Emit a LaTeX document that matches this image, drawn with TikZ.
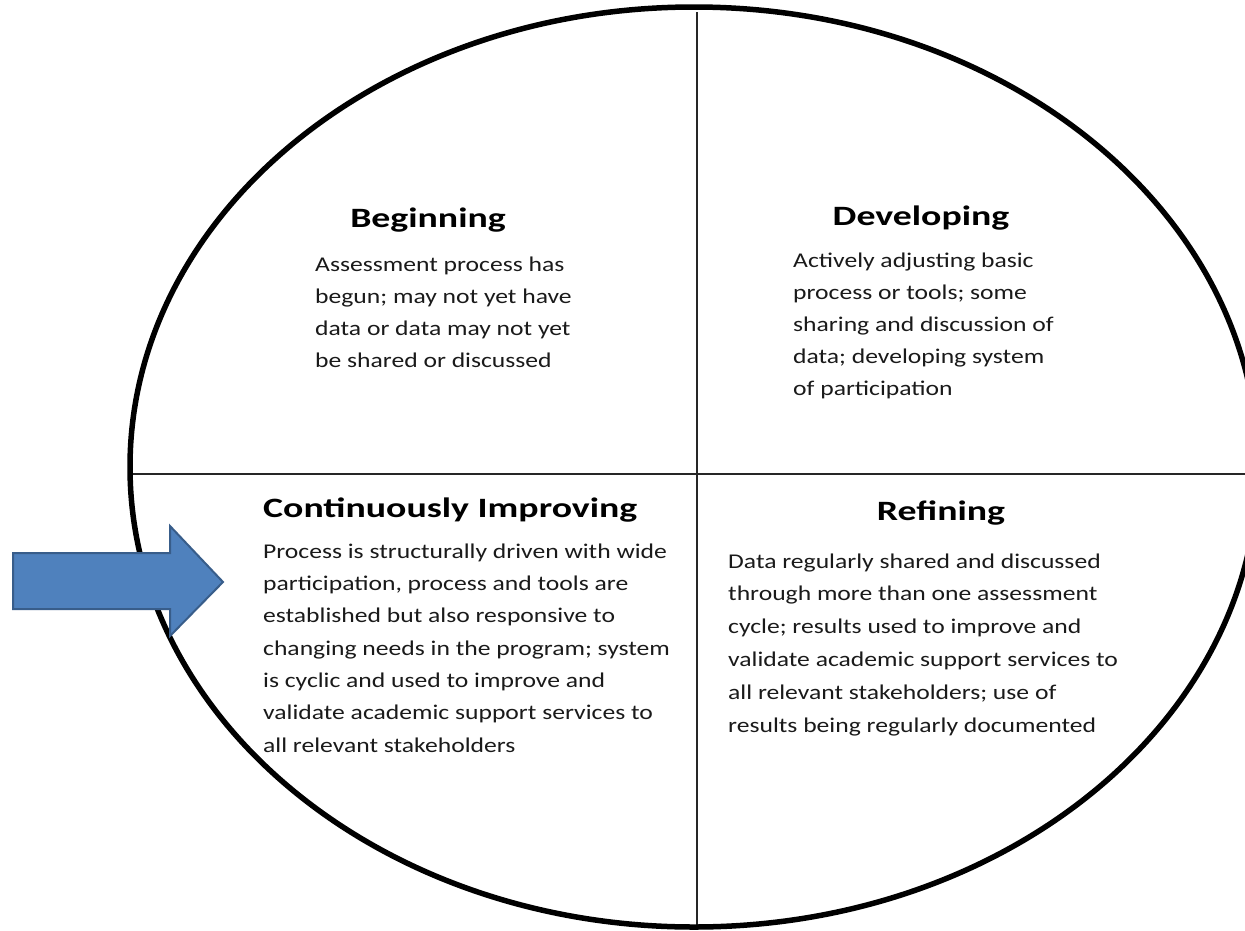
\documentclass[tikz,border=0pt]{standalone}
\usepackage{fontspec}
\setmainfont[FakeStretch=1.22]{Carlito}
\newfontfamily\titlefont[FakeStretch=1.35]{Carlito}
\definecolor{arrowfill}{HTML}{4F81BD}
\definecolor{arrowline}{HTML}{385D8A}
\definecolor{bodytext}{HTML}{1A1A1A}
\begin{document}
\begin{tikzpicture}[x=1pt,y=-1pt,
  title/.style={font=\titlefont\fontsize{28}{32}\selectfont\bfseries, inner sep=0pt, text=black, anchor=base},
  body/.style={align=left, inner sep=0pt, text=bodytext, anchor=base west},
  divider/.style={draw=black!85, line width=1.6pt},
  rim/.style={draw=black, line width=5.5pt}]
\useasboundingbox (0,0) rectangle (1245,930);
\clip (0,0) rectangle (1245,930);
\fill[white] (0,0) rectangle (1245,930);
% quadrant dividers
\coordinate (ctop) at (697,12);
\coordinate (cbot) at (697,928);
\coordinate (cleft) at (130,474);
\coordinate (cright) at (1245,474);
\draw[divider] (ctop) -- (cbot);
\draw[divider] (cleft) -- (cright);
% outer ellipse
\draw[rim] (694,467) ellipse [x radius=564, y radius=460];
% Beginning
\node[title] (tbeg) at (428,227) {Beginning};
\node[body, font=\fontsize{21}{31.7}\selectfont] (bbeg) at (315,367) {Assessment process has\\begun; may not yet have\\data or data may not yet\\be shared or discussed};
% Developing
\node[title] (tdev) at (921,225) {Developing};
\node[body, font=\fontsize{21}{32}\selectfont] (bdev) at (793,395) {Actively adjusting basic\\process or tools; some\\sharing and discussion of\\data; developing system\\of participation};
% Continuously Improving
\node[title, anchor=base west] (tci) at (263,517) {Continuously Improving};
\node[body, font=\fontsize{21}{32.3}\selectfont] (bci) at (263,752) {Process is structurally driven with wide\\participation, process and tools are\\established but also responsive to\\changing needs in the program; system\\is cyclic and used to improve and\\validate academic support services to\\all relevant stakeholders};
% Refining
\node[title] (tref) at (941,520) {Refining};
\node[body, font=\fontsize{21}{32.8}\selectfont] (bref) at (728,732) {Data regularly shared and discussed\\through more than one assessment\\cycle; results used to improve and\\validate academic support services to\\all relevant stakeholders; use of\\results being regularly documented};
% block arrow
\draw[fill=arrowfill, draw=arrowline, line width=2pt, line join=miter]
  (13,553) -- (170,553) -- (170,526) -- (223,582) -- (170,636) -- (170,609) -- (13,609) -- cycle;
\end{tikzpicture}
\end{document}
